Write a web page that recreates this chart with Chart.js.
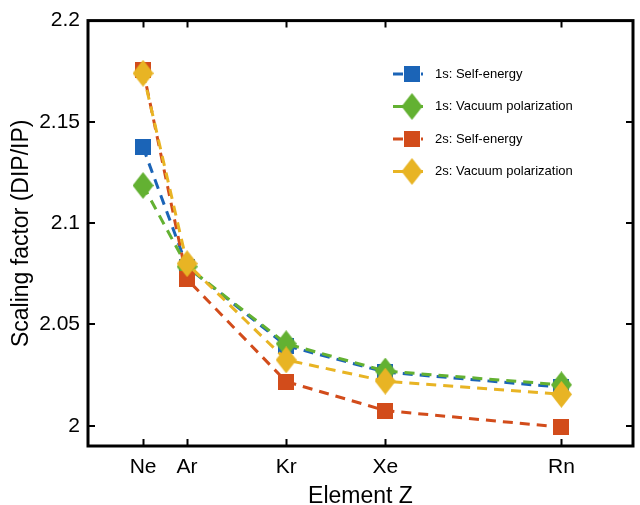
<!DOCTYPE html>
<html>
<head>
<meta charset="utf-8">
<script src="https://cdn.jsdelivr.net/npm/chart.js@4.4.1/dist/chart.umd.min.js"></script>
<style>
  html, body { margin: 0; padding: 0; background: #fff; }
  canvas { display: block; }
</style>
</head>
<body>
<canvas id="chart" width="640" height="505"></canvas>
<script>
const elements = ['Ne', 'Ar', 'Kr', 'Xe', 'Rn'];
const elementZ = [10, 18, 36, 54, 86];
const selfEnergy1s = [2.1374, 2.0785, 2.0395, 2.0265, 2.0190];
const vacuumPol1s = [2.1186, 2.0785, 2.0405, 2.0270, 2.0202];
const selfEnergy2s = [2.1758, 2.0723, 2.0218, 2.0075, 1.9993];
const vacuumPol2s = [2.1740, 2.0800, 2.0325, 2.0220, 2.0155];
const yTicks = [2, 2.05, 2.1, 2.15, 2.2];

const FONT = "'Liberation Sans', Arial, Helvetica, sans-serif";

// marker images: square and tall diamond like the original figure
function makeMarker(shape, color) {
  const c = document.createElement('canvas');
  const w = shape === 'square' ? 16 : 21;
  const h = shape === 'square' ? 16 : 27;
  c.width = w;
  c.height = h;
  const g = c.getContext('2d');
  g.fillStyle = color;
  if (shape === 'square') {
    g.fillRect(0, 0, w, h);
  } else {
    g.beginPath();
    g.moveTo(w / 2, 0);
    g.lineTo(w, h / 2);
    g.lineTo(w / 2, h);
    g.lineTo(0, h / 2);
    g.closePath();
    g.fill();
  }
  return c;
}

const series = [
  { label: '1s: Self-energy', values: selfEnergy1s, color: '#1b64b7', shape: 'square' },
  { label: '1s: Vacuum polarization', values: vacuumPol1s, color: '#63b132', shape: 'diamond' },
  { label: '2s: Self-energy', values: selfEnergy2s, color: '#d24c1b', shape: 'square' },
  { label: '2s: Vacuum polarization', values: vacuumPol2s, color: '#e8b424', shape: 'diamond' },
];

const datasets = series.map((s, i) => ({
  label: s.label,
  data: elementZ.map((z, k) => ({ x: z, y: s.values[k] })),
  borderColor: s.color,
  backgroundColor: s.color,
  borderWidth: 3,
  borderDash: [10, 7],
  pointStyle: makeMarker(s.shape, s.color),
  order: series.length - i, // later series on top
}));

// legend drawn inside the axes, line + marker like matlab
const boxLegend = {
  id: 'boxLegend',
  afterDatasetsDraw(chart) {
    const ctx = chart.ctx;
    const rows = [74, 106.5, 139, 171.5];
    ctx.save();
    chart.data.datasets.forEach((ds, i) => {
      const y = rows[i];
      ctx.strokeStyle = ds.borderColor;
      ctx.lineWidth = 3;
      ctx.setLineDash([10, 4]);
      ctx.beginPath();
      ctx.moveTo(393, y);
      ctx.lineTo(423, y);
      ctx.stroke();
      const m = ds.pointStyle;
      ctx.drawImage(m, 412 - m.width / 2, y - m.height / 2);
      ctx.fillStyle = '#000';
      ctx.font = '13px ' + FONT;
      ctx.textAlign = 'left';
      ctx.textBaseline = 'middle';
      ctx.fillText(ds.label, 435, y);
    });
    ctx.restore();
  }
};

// box around the axes with inward ticks on all four sides
const frame = {
  id: 'frame',
  afterDraw(chart) {
    const { ctx, chartArea: a, scales: { x, y } } = chart;
    const len = 7;
    ctx.save();
    ctx.strokeStyle = '#000';
    ctx.lineWidth = 2;
    ctx.beginPath();
    x.ticks.forEach(t => {
      const px = Math.round(x.getPixelForValue(t.value)) + 0.5;
      ctx.moveTo(px, a.bottom);
      ctx.lineTo(px, a.bottom - len);
      ctx.moveTo(px, a.top);
      ctx.lineTo(px, a.top + len);
    });
    y.ticks.forEach(t => {
      const py = Math.round(y.getPixelForValue(t.value));
      ctx.moveTo(a.left, py);
      ctx.lineTo(a.left + len, py);
      ctx.moveTo(a.right, py);
      ctx.lineTo(a.right - len, py);
    });
    ctx.stroke();
    ctx.lineWidth = 3;
    ctx.strokeRect(a.left, a.top, a.right - a.left, a.bottom - a.top);
    ctx.restore();
  }
};

const ctx = document.getElementById('chart').getContext('2d');
new Chart(ctx, {
  type: 'line',
  data: { datasets },
  options: {
    responsive: false,
    animation: false,
    layout: { padding: { top: 19, right: 4, left: 0, bottom: 0 } },
    plugins: {
      legend: { display: false },
      tooltip: { enabled: false },
    },
    scales: {
      x: {
        type: 'linear',
        min: 0,
        max: 99,
        afterBuildTicks: scale => {
          scale.ticks = elementZ.map(v => ({ value: v }));
        },
        afterFit: scale => { scale.height = 59; },
        grid: { display: false, drawTicks: false },
        border: { display: false },
        ticks: {
          padding: 9,
          color: '#000',
          font: { family: FONT, size: 21 },
          maxRotation: 0,
          callback: v => elements[elementZ.indexOf(v)],
        },
        title: {
          display: true,
          text: 'Element Z',
          color: '#000',
          font: { family: FONT, size: 23, lineHeight: 0.75 },
          padding: { top: 0, bottom: 0 },
        },
      },
      y: {
        min: 1.99,
        max: 2.2,
        afterBuildTicks: scale => {
          scale.ticks = yTicks.map(v => ({ value: v }));
        },
        afterFit: scale => { scale.width = 88; },
        grid: { display: false, drawTicks: false },
        border: { display: false },
        ticks: {
          padding: 8,
          color: '#000',
          font: { family: FONT, size: 21 },
          callback: v => String(v),
        },
        title: {
          display: true,
          text: 'Scaling factor (DIP/IP)',
          color: '#000',
          font: { family: FONT, size: 23, lineHeight: 1 },
          padding: { top: 10, bottom: 0 },
        },
      },
    },
  },
  plugins: [boxLegend, frame],
});
</script>
</body>
</html>
